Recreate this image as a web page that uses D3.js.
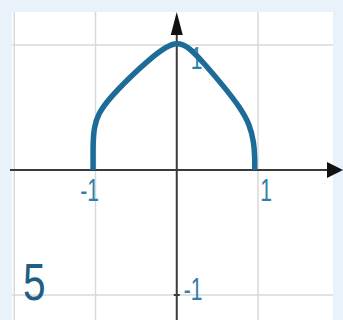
<!DOCTYPE html>
<html lang="en">
<head>
<meta charset="UTF-8">
<title>graph 5</title>
<script src="https://d3js.org/d3.v7.min.js"></script>
<style>
    body{ margin:0; background:#e9f2fa; }
    text{ font-family:"Liberation Sans", Arial, sans-serif; }
</style>
</head>
<body>
<svg id="chart" width="343" height="320"></svg>
<script>
    // curve
    let curveX = [-1.03, -1.03, -1.03, -1.02, -0.97, -0.82, -0.58, -0.33, -0.12, 0, 0.14, 0.34, 0.59, 0.78, 0.90, 0.95, 0.96, 0.96];
    let curveY = [0, 0.1, 0.22, 0.33, 0.45, 0.58, 0.74, 0.89, 0.99, 1.02, 0.99, 0.85, 0.66, 0.50, 0.36, 0.22, 0.1, 0];
    let gridX = [-2, -1, 1, 2];
    let gridY = [-1, 1];
    let xTicks = [-1, 1];
    let yTicks = [1, -1];
    let panelLabel = "5";

    let svg = d3.select("#chart");
    let x = d3.scaleLinear().domain([-1, 1]).range([95.5, 258]);
    let y = d3.scaleLinear().domain([-1, 1]).range([295, 45]);

    // white panel
    svg.append("rect")
        .attr("x", 12).attr("y", 12)
        .attr("width", 321).attr("height", 308)
        .attr("fill", "#ffffff");

    let grid = svg.append("g").attr("stroke", "#d9d9d9").attr("stroke-width", 1.5);
    grid.selectAll(".gx").data(gridX).join("line")
        .attr("x1", d => x(d)).attr("x2", d => x(d))
        .attr("y1", 12).attr("y2", 320)
        .attr("visibility", d => (x(d) > 333 ? "hidden" : "visible"));
    grid.selectAll(".gy").data(gridY).join("line")
        .attr("x1", 12).attr("x2", 333)
        .attr("y1", d => y(d)).attr("y2", d => y(d));

    // axes
    let ax = svg.append("g").attr("stroke", "#3a3a3a").attr("stroke-width", 2);
    ax.append("line").attr("x1", 10).attr("x2", 330).attr("y1", y(0)).attr("y2", y(0));
    ax.append("line").attr("x1", x(0)).attr("x2", x(0)).attr("y1", 32).attr("y2", 320);
    svg.append("path")
        .attr("d", `M343,${y(0)} L327,${y(0) - 8} L327,${y(0) + 8} Z`)
        .attr("fill", "#111");
    svg.append("path")
        .attr("d", `M${x(0)},12 L${x(0) - 6},35 L${x(0) + 6},35 Z`)
        .attr("fill", "#111");
    svg.append("line")
        .attr("x1", x(0) - 3).attr("x2", x(0) + 3)
        .attr("y1", y(-1)).attr("y2", y(-1))
        .attr("stroke", "#3a3a3a").attr("stroke-width", 2);

    // tick labels
    let labColor = "#2f7fa8";
    svg.selectAll(".xt").data(xTicks).join("text")
        .attr("transform", d => `translate(${x(d) + (d < 0 ? -6 : 8)},${y(0) + 31}) scale(0.68,1)`)
        .attr("text-anchor", "middle")
        .attr("font-size", 31)
        .attr("fill", labColor)
        .text(d => d);
    svg.selectAll(".yt").data(yTicks).join("text")
        .attr("transform", d => `translate(${x(0) + (d > 0 ? 14 : 7)},${y(d) + (d > 0 ? 24 : 5)}) scale(0.68,1)`)
        .attr("font-size", 31)
        .attr("fill", labColor)
        .text(d => d);

    // curve
    let pts = d3.zip(curveX, curveY);
    svg.append("path")
        .datum(pts)
        .attr("d", d3.line().x(d => x(d[0])).y(d => y(d[1])).curve(d3.curveBasis))
        .attr("fill", "none")
        .attr("stroke", "#1d6c97")
        .attr("stroke-width", 5.5)
        .attr("stroke-linejoin", "round");

    svg.append("text")
        .attr("transform", "translate(23,300) scale(0.78,1)")
        .attr("font-size", 52)
        .attr("fill", "#1f5f86")
        .text(panelLabel);
</script>
</body>
</html>
